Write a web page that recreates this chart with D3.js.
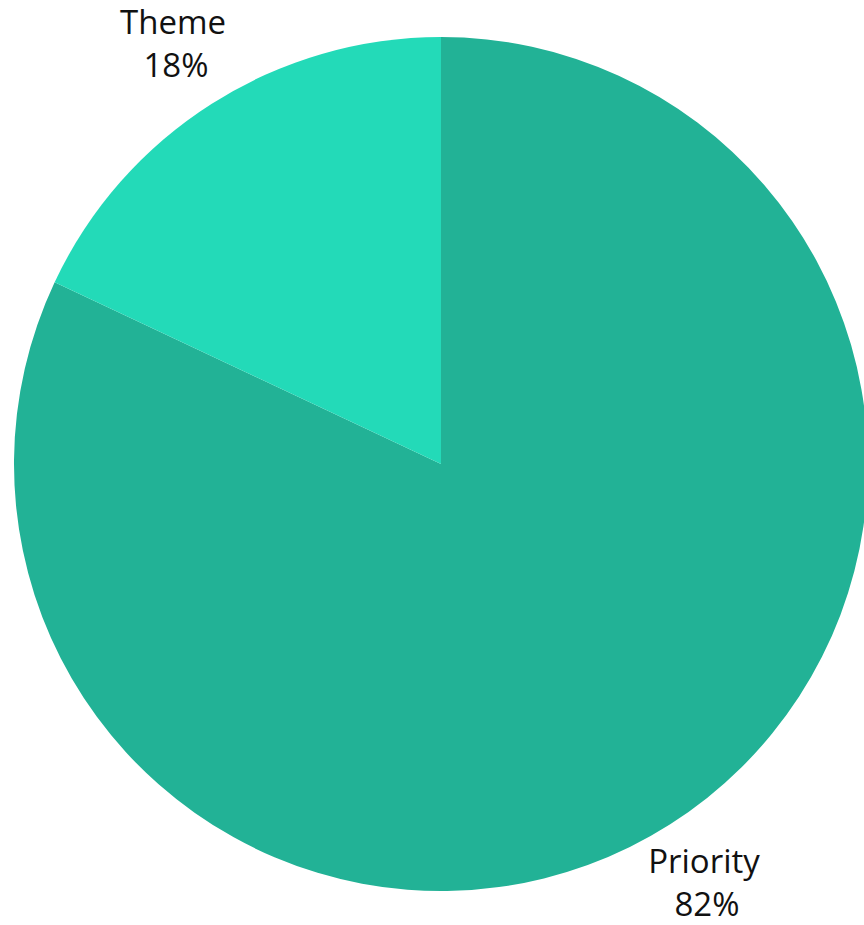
<!DOCTYPE html>
<html>
<head>
<meta charset="utf-8">
<script src="https://cdn.jsdelivr.net/npm/d3@7"></script>
<style>
  html, body { margin: 0; padding: 0; background: #ffffff; }
  svg { display: block; }
</style>
</head>
<body>
<svg id="chart" width="864" height="925"></svg>
<script>
const categories = ["Priority", "Theme"];
const values = [82, 18];
const colors = ["#22B296", "#23DAB8"];

const svg = d3.select("#chart");
const cx = 441, cy = 464, r = 427;

const data = categories.map((c, i) => ({ name: c, value: values[i], color: colors[i] }));

const pie = d3.pie().value(d => d.value).sort(null);
const arc = d3.arc().innerRadius(0).outerRadius(r);

const g = svg.append("g").attr("transform", `translate(${cx},${cy})`);
const arcs = pie(data);

g.selectAll("path").data(arcs).enter().append("path")
  .attr("d", arc)
  .attr("fill", d => d.data.color);

// labels outside the pie
const labelPos = { "Priority": [704, 873], "Theme": [173, 34] };
const lineGap = 43;
const labels = svg.append("g")
  .attr("font-family", "'Open Sans', sans-serif")
  .attr("font-size", 33)
  .attr("fill", "#111111")
  .attr("text-anchor", "middle");

arcs.forEach(a => {
  const p = labelPos[a.data.name];
  const t = labels.append("text").attr("x", p[0]).attr("y", p[1]);
  t.append("tspan").attr("x", p[0]).text(a.data.name);
  t.append("tspan").attr("x", p[0] + 3).attr("dy", lineGap).text(a.data.value + "%");
});
</script>
</body>
</html>
